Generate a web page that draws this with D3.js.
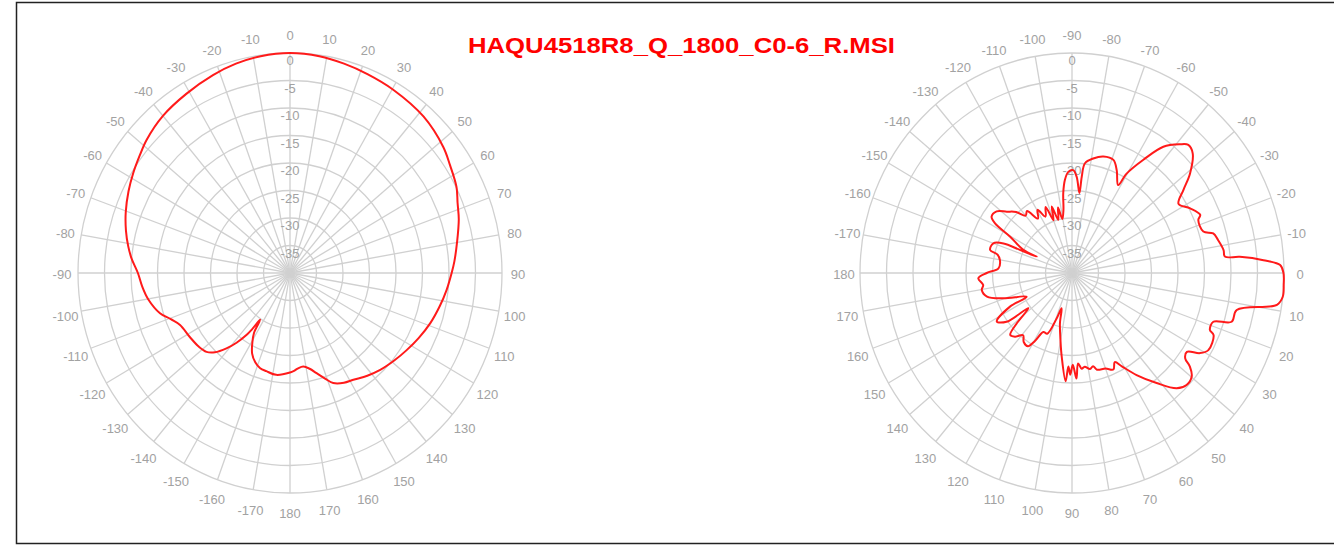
<!DOCTYPE html>
<html><head><meta charset="utf-8">
<script src="https://cdn.jsdelivr.net/npm/d3@7"></script>
<style>html,body{margin:0;padding:0;background:#fff;} svg{display:block}</style>
</head><body>
<svg id="c" width="1334" height="547"></svg>
<script>
const title = "HAQU4518R8_Q_1800_C0-6_R.MSI";
const ringLevels = [0, -5, -10, -15, -20, -25, -30, -35];
const ringLabels = ["0", "-5", "-10", "-15", "-20", "-25", "-30", "-35"];
const spokeAngles = [0,10,20,30,40,50,60,70,80,90,100,110,120,130,140,150,160,170,180,190,200,210,220,230,240,250,260,270,280,290,300,310,320,330,340,350];
const hTickLabels = ["0","10","20","30","40","50","60","70","80","90","100","110","120","130","140","150","160","170","180","-170","-160","-150","-140","-130","-120","-110","-100","-90","-80","-70","-60","-50","-40","-30","-20","-10"];
const vTickLabels = ["-90","-80","-70","-60","-50","-40","-30","-20","-10","0","10","20","30","40","50","60","70","80","90","100","110","120","130","140","150","160","170","180","-170","-160","-150","-140","-130","-120","-110","-100"];

// Horizontal pattern (azimuth, degrees) and gain (dB)
const hAngles = [-180,-172,-166,-162,-158,-154,-150.5,-148,-146.5,-145,-144,-141.5,-138.8,-135.5,-132.3,-128,-121.6,-114.5,-110.5,-106.6,-100,-95,-90,-85,-81,-76,-70.4,-64,-58.5,-53,-48.2,-40,-31,-22,-15,-8,0,8,15,22,30.3,41.5,51.6,57,63.5,68,73,80,86,90,96,102,109,116,122.5,129,136,142,148.4,153,157.8,161,164.6,168,171.6,175,177.5];
const hGain   = [-21.9,-21.3,-21.6,-21.8,-22.5,-23.7,-25.6,-27.2,-29.8,-27.5,-26.1,-23.8,-21.8,-19.8,-18.7,-18.2,-17.8,-17.2,-16.0,-14.4,-12.8,-12.0,-11.3,-10.0,-9.1,-8.1,-7.1,-6.1,-5.3,-4.5,-3.7,-2.7,-2.0,-1.2,-0.6,-0.2,0,-0.2,-0.6,-1.0,-1.4,-2.0,-3.1,-4.0,-4.9,-5.9,-6.7,-8.0,-8.9,-9.5,-10.3,-11.1,-12.0,-13.0,-13.9,-14.7,-15.5,-16.3,-17.2,-17.6,-18.4,-19.7,-21.1,-22.2,-22.8,-22.6,-22.2];

// Vertical pattern (elevation, degrees) and gain (dB)
const vAngles = [-180,-176.5,-170.2,-166.5,-164.9,-160,-157.4,-156.9,-156,-155.4,-150.5,-148.1,-146,-141.8,-137.8,-133.5,-130,-127,-123,-119.5,-116,-112.5,-110,-107.5,-105,-102.5,-100.5,-98,-96.5,-94.5,-92.2,-89.3,-87.1,-84.5,-84,-83,-79.1,-74.4,-69.2,-65.7,-61.4,-60.3,-56.8,-53.1,-49,-46.7,-43.7,-39.1,-35.7,-32,-27.8,-23.6,-22,-16.9,-15.1,-12.3,-8.3,-5.9,-5.3,-3.7,-2.1,0,3,6.2,8.5,12.2,16.4,18.4,21.7,22.9,28.6,31.1,33.5,36,37.4,39.8,43.3,46.7,51.4,56.7,61,63.5,66,70,75,76.8,79,82,84,86,87.5,89.5,91,92.3,93.5,97.3,100,104,107,109.3,113,116.8,119.5,122,126,129.2,132.9,136,138.7,142.2,144.3,148.1,152.4,153.2,160.5,165,169.7,172.6,176.9];
const vGain   = [-23.9,-26.1,-26.2,-25.5,-24.0,-24.2,-26.0,-29.3,-32.7,-29.9,-26.6,-22.9,-21.7,-21.9,-23.4,-24.7,-26.4,-25.9,-28.2,-26.8,-28.6,-27.0,-29.8,-27.3,-30.0,-27.8,-30.0,-28.4,-25.4,-23.0,-21.6,-21.3,-22.5,-25.4,-22.4,-19.9,-18.8,-18.0,-18.0,-19.5,-21.8,-19.2,-15.4,-11.3,-9.0,-8.0,-8.5,-11.3,-14.1,-16.3,-14.8,-13.6,-14.3,-14.1,-12.4,-11.8,-11.1,-11.0,-8.2,-3.8,-0.7,-0.1,0,0,-0.9,-8.2,-8.6,-11.9,-12.0,-11.0,-10.7,-11.8,-14.0,-13.6,-12.0,-10.6,-10.3,-11.2,-14.4,-17.8,-20.6,-21.9,-20.8,-21.5,-21.8,-22.6,-22.2,-22.8,-22.5,-23.5,-20.8,-23.3,-21.5,-23.0,-20.3,-24.7,-27.5,-30.6,-33.3,-31.3,-28.0,-28.0,-25.8,-24.3,-24.5,-25.4,-24.2,-23.8,-26.1,-29.6,-24.8,-23.3,-26.8,-30.4,-26.2,-23.4,-22.7,-23.1,-22.3];

const svg = d3.select("#c");
svg.append("rect").attr("x", 16.5).attr("y", 2.5).attr("width", 1340).attr("height", 541)
  .attr("fill", "#fff").attr("stroke", "#222").attr("stroke-width", 1.5);

const RX = 212, RY = 220;
const rScale = d3.scaleLinear().domain([-40, 0]).range([0, 1]).clamp(true);
const aScale = d3.scaleLinear().domain([0, 360]).range([0, 2 * Math.PI]);

function drawPolar(cx, cy, tickLabels, angles, gains, offset) {
  const g = svg.append("g");
  const X = (a, v) => cx + rScale(v) * RX * Math.sin(aScale(a));
  const Y = (a, v) => cy - rScale(v) * RY * Math.cos(aScale(a));
  g.selectAll("line.spoke").data(spokeAngles).join("line").attr("class", "spoke")
    .attr("x1", cx).attr("y1", cy).attr("x2", a => X(a, 0)).attr("y2", a => Y(a, 0))
    .attr("stroke", "#d0d0d0").attr("stroke-width", 1.3);
  g.selectAll("ellipse").data(ringLevels).join("ellipse")
    .attr("cx", cx).attr("cy", cy).attr("rx", v => rScale(v) * RX).attr("ry", v => rScale(v) * RY)
    .attr("fill", "none").attr("stroke", "#d0d0d0").attr("stroke-width", 1.3);
  g.selectAll("text.ring").data(ringLevels).join("text").attr("class", "ring")
    .attr("x", cx).attr("y", v => cy - rScale(v) * RY + 9)
    .attr("text-anchor", "middle").attr("dominant-baseline", "middle")
    .attr("font-family", "Liberation Sans, Arial, sans-serif").attr("font-size", 13)
    .attr("fill", "#a2a2a2").text((v, i) => ringLabels[i]);
  g.selectAll("text.tick").data(spokeAngles).join("text").attr("class", "tick")
    .attr("x", a => cx + (RX + 16) * Math.sin(aScale(a)))
    .attr("y", a => cy - (RY + 19) * Math.cos(aScale(a)) + 3)
    .attr("text-anchor", "middle").attr("dominant-baseline", "middle")
    .attr("font-family", "Liberation Sans, Arial, sans-serif").attr("font-size", 13)
    .attr("fill", "#a2a2a2").text((a, i) => tickLabels[i]);
  const pts = angles.map((a, i) => [a + offset, gains[i]]);
  const line = d3.line().x(d => X(d[0], d[1])).y(d => Y(d[0], d[1]))
    .curve(d3.curveCatmullRomClosed.alpha(0.5));
  g.append("path").attr("d", line(pts)).attr("fill", "none")
    .attr("stroke", "#ff1a1a").attr("stroke-width", 2);
}

drawPolar(290, 273, hTickLabels, hAngles, hGain, 0);
drawPolar(1072, 273, vTickLabels, vAngles, vGain, 90);

svg.append("text").attr("x", 468).attr("y", 53)
  .attr("font-family", "Liberation Sans, Arial, sans-serif").attr("font-weight", "bold")
  .attr("font-size", 22).attr("fill", "#ff0000")
  .attr("textLength", 427).attr("lengthAdjust", "spacingAndGlyphs")
  .text(title);
</script>
</body></html>
